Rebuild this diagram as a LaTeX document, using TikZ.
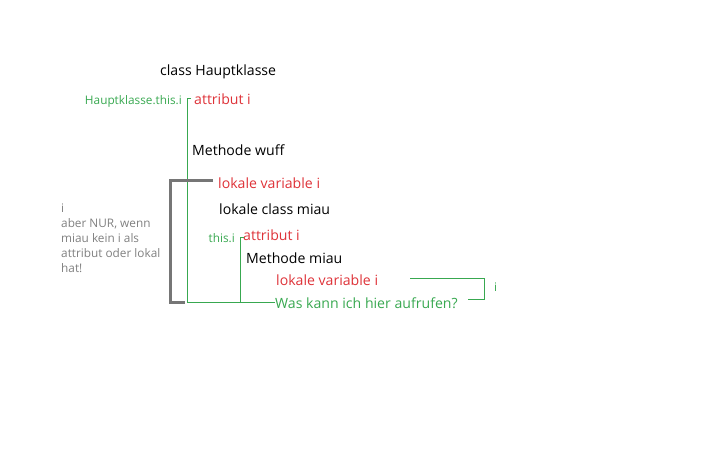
\documentclass[tikz,border=0pt]{standalone}
\usepackage{fontspec}
\setmainfont{Open Sans}
\definecolor{cred}{RGB}{222,50,56}
\definecolor{cgreen}{RGB}{56,168,80}
\definecolor{cgray}{RGB}{128,128,128}
\definecolor{cbrk}{RGB}{118,118,118}
\tikzset{
  txt/.style={inner sep=0pt, anchor=west, font=\fontsize{14.1}{16}\selectfont},
  blk/.style={txt, text=black},
  rd/.style={txt, text=cred},
  gr/.style={txt, text=cgreen},
  sml/.style={inner sep=0pt, font=\fontsize{11.8}{15}\selectfont},
  gline/.style={draw=cgreen, line width=1pt},
  brk/.style={draw=cbrk, line width=3pt},
}
\begin{document}
\begin{tikzpicture}[x=1pt,y=-1pt]
\useasboundingbox (0,0) rectangle (716,465);
\node[blk] (hk) at (160,71.5) {class Hauptklasse};
\node[sml, anchor=east, text=cgreen] (hti) at (182,101) {Hauptklasse.this.i};
\node[rd] (a1) at (194,99) {attribut i};
\node[blk] (mw) at (192,150) {Methode wuff};
\node[rd] (lv1) at (218,183) {lokale variable i};
\node[blk] (lcm) at (219,209) {lokale class miau};
\node[sml, anchor=east, text=cgreen] (ti) at (235,238) {this.i};
\node[rd] (a2) at (243,235) {attribut i};
\node[blk] (mm) at (246,258) {Methode miau};
\node[rd] (lv2) at (276,280) {lokale variable i};
\node[gr] (was) at (275,303) {Was kann ich hier aufrufen?};
\node[sml, anchor=north west, text=cgray, align=left] (note) at (61,204)
  {i\\aber NUR, wenn\\miau kein i als\\attribut oder lokal\\hat!};
\node[sml, anchor=west, text=cgreen] (ri) at (494,287) {i};
% green scope lines
\coordinate (g1t) at (187.5,99);
\coordinate (g2t) at (240.5,238);
\draw[gline] (191,99) -- (g1t) -- (187.5,303) -- (was.west);
\draw[gline] (244,238) -- (g2t) -- (240.5,303);
% gray bracket
\draw[brk] (213,181) -| (170.5,303) -- (185,303);
% right bracket
\draw[gline] (410,278.5) -- (484,278.5) -- (484,299.5) -- (468,299.5);
\end{tikzpicture}
\end{document}
